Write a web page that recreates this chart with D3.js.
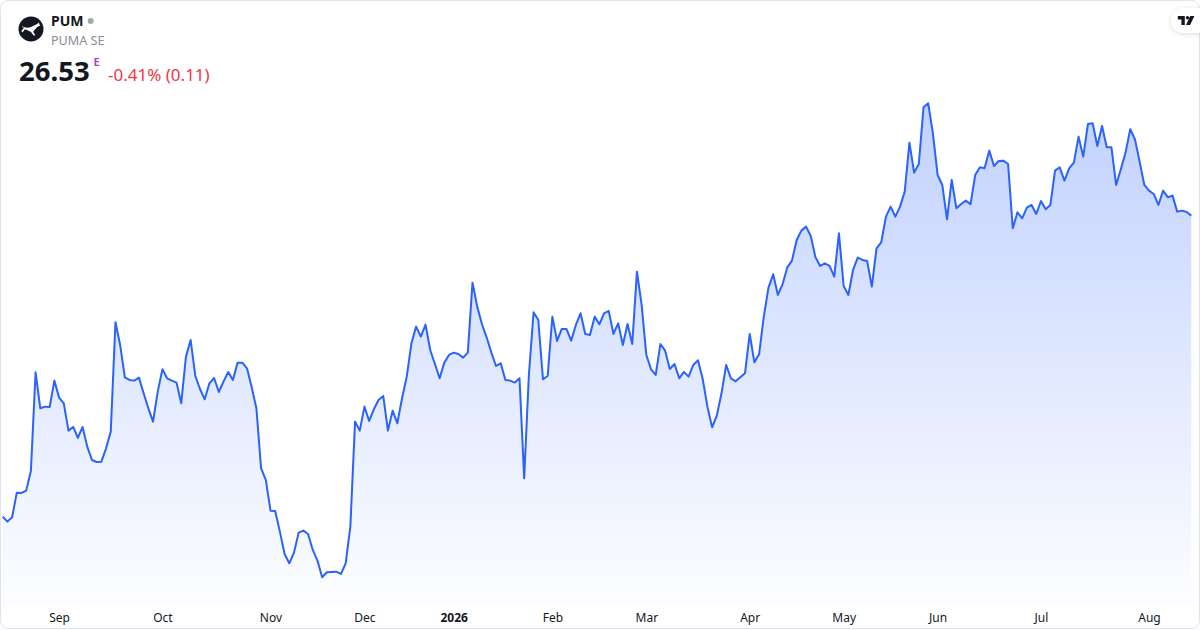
<!DOCTYPE html>
<html>
<head>
<meta charset="utf-8">
<script src="https://cdn.jsdelivr.net/npm/d3@7"></script>
<style>
    html, body { margin: 0; padding: 0; background: #fff; }
    svg { display: block; font-family: 'Noto Sans', sans-serif; }
</style>
</head>
<body>
<svg id="chart" width="1200" height="630"></svg>
<script>
'use strict';

const symbol = 'PUM';
const companyName = 'PUMA SE';
const lastPrice = '26.53';
const changeText = '-0.41% (0.11)';

// daily closes, one per trading session, mid Aug 2025 -> mid Aug 2026
const closes = [
    17.50, 17.35, 17.48, 18.22, 18.21, 18.28, 18.87, 21.83, 20.75, 20.80,
    20.79, 21.58, 21.07, 20.90, 20.08, 20.19, 19.86, 20.19, 19.60, 19.20,
    19.14, 19.15, 19.55, 20.05, 23.33, 22.65, 21.68, 21.60, 21.58, 21.67,
    21.20, 20.75, 20.35, 21.25, 21.92, 21.65, 21.58, 21.52, 20.90, 22.30,
    22.80, 21.72, 21.33, 21.02, 21.50, 21.66, 21.24, 21.55, 21.84, 21.60,
    22.12, 22.12, 21.95, 21.38, 20.75, 18.95, 18.60, 17.68, 17.67, 17.05,
    16.38, 16.10, 16.42, 17.02, 17.08, 16.98, 16.50, 16.18, 15.68, 15.83,
    15.84, 15.85, 15.78, 16.10, 17.20, 20.35, 20.08, 20.80, 20.37, 20.72,
    21.00, 21.12, 20.08, 20.68, 20.30, 21.05, 21.70, 22.70, 23.20, 22.90,
    23.26, 22.50, 22.08, 21.65, 22.12, 22.35, 22.42, 22.38, 22.27, 22.42,
    24.52, 23.80, 23.28, 22.88, 22.43, 22.02, 22.10, 21.60, 21.58, 21.52,
    21.65, 18.65, 21.75, 23.63, 23.40, 21.62, 21.72, 23.50, 22.77, 23.13,
    23.13, 22.78, 23.25, 23.60, 22.98, 22.95, 23.50, 23.27, 23.60, 23.67,
    22.98, 23.30, 22.65, 23.28, 22.68, 24.85, 23.85, 22.35, 21.92, 21.75,
    22.68, 22.48, 21.93, 22.08, 21.65, 21.84, 21.70, 22.05, 22.19, 21.63,
    20.80, 20.18, 20.53, 21.20, 22.05, 21.65, 21.56, 21.68, 21.80, 22.98,
    22.13, 22.37, 23.50, 24.37, 24.77, 24.15, 24.47, 24.98, 25.18, 25.80,
    26.08, 26.20, 25.92, 25.28, 25.02, 25.10, 25.02, 24.70, 26.00, 24.42,
    24.15, 24.90, 25.27, 25.20, 25.17, 24.40, 25.55, 25.73, 26.50, 26.80,
    26.50, 26.80, 27.25, 28.72, 27.82, 28.08, 29.78, 29.90, 29.00, 27.75,
    27.45, 26.42, 27.60, 26.75, 26.88, 26.98, 26.87, 27.75, 27.98, 27.95,
    28.48, 28.02, 28.17, 28.18, 28.08, 26.15, 26.63, 26.45, 26.77, 26.85,
    26.58, 26.97, 26.72, 26.85, 27.88, 27.98, 27.58, 27.95, 28.12, 28.90,
    28.30, 29.28, 29.30, 28.62, 29.22, 28.58, 28.58, 27.45, 27.92, 28.42,
    29.12, 28.82, 28.15, 27.45, 27.28, 27.18, 26.85, 27.28, 27.08, 27.13,
    26.65, 26.68, 26.64, 26.53
];

const monthLabels = ['Sep', 'Oct', 'Nov', 'Dec', '2026', 'Feb', 'Mar', 'Apr', 'May', 'Jun', 'Jul', 'Aug'];
// position in closes of the first session of each month
const monthStarts = [12, 34, 57, 77, 96, 117, 137, 159, 179, 199, 221, 244];

class MiniChart {
    constructor(selector) {
        this.svg = d3.select(selector);
        this.width = 1200;
        this.height = 630;
        this.lineColor = '#2962ff';

        this.setUpEnvironment();
        this.drawFrame();
        this.drawArea();
        this.drawAxis();
        this.drawHeader();
        this.drawBadge();
    }

    setUpEnvironment() {
        this.plot = { left: 2.7, right: 1191.3, top: 103.3, bottom: 577.3, base: 606 };

        this.x = d3.scaleLinear()
            .domain([0, closes.length - 1])
            .range([this.plot.left, this.plot.right]);

        this.y = d3.scaleLinear()
            .domain(d3.extent(closes))
            .range([this.plot.bottom, this.plot.top]);
    }

    drawFrame() {
        this.svg.append('rect')
            .attr('x', 0.5)
            .attr('y', 0.5)
            .attr('width', this.width - 1)
            .attr('height', this.height - 2)
            .attr('rx', 8)
            .attr('fill', '#fff')
            .attr('stroke', '#e0e3eb');
    }

    drawArea() {
        const defs = this.svg.append('defs');

        const grad = defs.append('linearGradient')
            .attr('id', 'areaFill')
            .attr('gradientUnits', 'userSpaceOnUse')
            .attr('x1', 0).attr('x2', 0)
            .attr('y1', this.plot.top).attr('y2', this.plot.base);
        grad.append('stop').attr('offset', 0).attr('stop-color', this.lineColor).attr('stop-opacity', 0.29);
        grad.append('stop').attr('offset', 1).attr('stop-color', this.lineColor).attr('stop-opacity', 0.01);

        const area = d3.area()
            .x((d, i) => this.x(i))
            .y0(this.plot.base)
            .y1(d => this.y(d));

        const line = d3.line()
            .x((d, i) => this.x(i))
            .y(d => this.y(d));

        this.svg.append('path')
            .datum(closes)
            .attr('d', area)
            .attr('fill', 'url(#areaFill)');

        this.svg.append('path')
            .datum(closes)
            .attr('d', line)
            .attr('fill', 'none')
            .attr('stroke', this.lineColor)
            .attr('stroke-width', 2)
            .attr('stroke-linejoin', 'round');
    }

    drawAxis() {
        const axis = d3.axisBottom(this.x)
            .tickValues(monthStarts)
            .tickSize(0)
            .tickPadding(0)
            .tickFormat((d, i) => monthLabels[i]);

        const g = this.svg.append('g')
            .attr('transform', 'translate(0, 613.5)')
            .call(axis);

        g.select('.domain').remove();
        g.selectAll('text')
            .attr('dy', '0.71em')
            .attr('fill', '#131722')
            .attr('font-family', "'Noto Sans', sans-serif")
            .attr('font-size', 12)
            .attr('font-weight', (d, i) => monthLabels[i] === '2026' ? 700 : 400);
    }

    drawHeader() {
        const logo = this.svg.append('g').attr('transform', 'translate(31, 29)');
        logo.append('circle').attr('r', 12.5).attr('fill', '#131722');
        // rough leaping cat mark
        logo.append('path')
            .attr('d', 'M-9,-3 C-6,-1 -3,-1 0,-2 C2,-3 4,-4 6,-5 L8,-6.5 L8.4,-4.4 L9.4,-3.6 L7,-2.6 ' +
                'C5,-1 3.2,1 2.2,3 L4.4,6.2 L2.6,6.6 L0,3 C-2,2 -4,1 -6,0.2 L-8.6,3.4 L-9.6,2 L-7,-1.2 ' +
                'C-8,-1.8 -9,-2 -9,-3 Z')
            .attr('fill', '#fff');

        this.svg.append('text')
            .attr('x', 51)
            .attr('y', 26)
            .attr('font-size', 14)
            .attr('font-weight', 700)
            .attr('fill', '#131722')
            .text(symbol);

        this.svg.append('circle')
            .attr('cx', 90.7)
            .attr('cy', 21)
            .attr('r', 3)
            .attr('fill', '#a3a6af');

        this.svg.append('text')
            .attr('x', 51)
            .attr('y', 45)
            .attr('font-size', 12.6)
            .attr('fill', '#8a8d96')
            .text(companyName);

        this.svg.append('text')
            .attr('x', 19)
            .attr('y', 81)
            .attr('font-size', 27.5)
            .attr('font-weight', 700)
            .attr('fill', '#131722')
            .text(lastPrice);

        this.svg.append('text')
            .attr('x', 93.5)
            .attr('y', 65.5)
            .attr('font-size', 11)
            .attr('font-weight', 700)
            .attr('fill', '#ab47bc')
            .text('E');

        this.svg.append('text')
            .attr('x', 108)
            .attr('y', 81)
            .attr('font-size', 17)
            .attr('fill', '#f23645')
            .text(changeText);
    }

    drawBadge() {
        const defs = this.svg.select('defs');
        const shadow = defs.append('filter')
            .attr('id', 'badgeShadow')
            .attr('x', '-50%').attr('y', '-50%')
            .attr('width', '200%').attr('height', '200%');
        shadow.append('feDropShadow')
            .attr('dx', 0).attr('dy', 1)
            .attr('stdDeviation', 2.5)
            .attr('flood-color', '#000')
            .attr('flood-opacity', 0.14);

        this.svg.append('rect')
            .attr('x', 1171)
            .attr('y', 8)
            .attr('width', 45)
            .attr('height', 25)
            .attr('rx', 12.5)
            .attr('fill', '#fff')
            .attr('filter', 'url(#badgeShadow)');

        const tv = this.svg.append('g')
            .attr('transform', 'translate(1177.8, 16)')
            .attr('fill', '#131722');
        tv.append('path').attr('d', 'M0,0 H7 V9 H3.6 V3.4 H0 Z');
        tv.append('circle').attr('cx', 9.7).attr('cy', 1.7).attr('r', 1.7);
        tv.append('path').attr('d', 'M12.4,0 H16.6 L12.3,9 H8.2 Z');
    }
}

new MiniChart('#chart');
</script>
</body>
</html>
